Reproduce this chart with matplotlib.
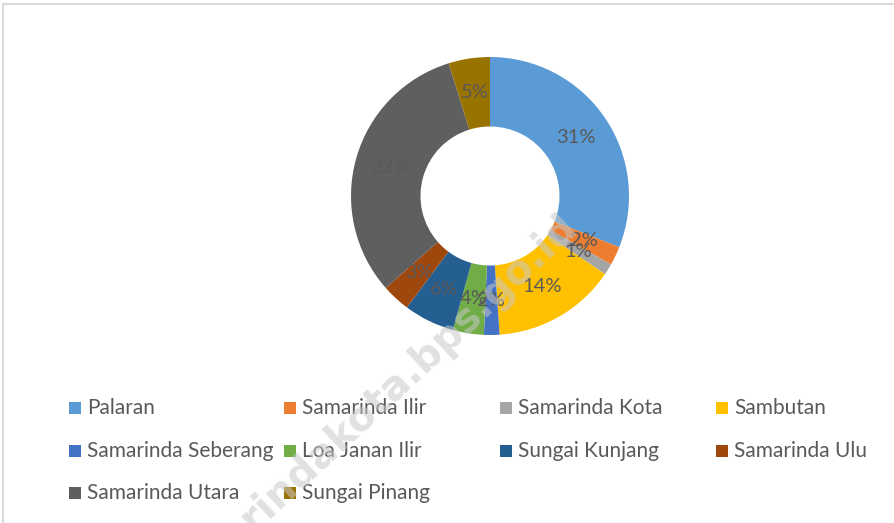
import matplotlib
matplotlib.use("Agg")
import matplotlib.pyplot as plt
from matplotlib.patches import Rectangle
from matplotlib.lines import Line2D

# kecamatan shares (percent)
districts = ["Palaran", "Samarinda Ilir", "Samarinda Kota", "Sambutan",
             "Samarinda Seberang", "Loa Janan Ilir", "Sungai Kunjang",
             "Samarinda Ulu", "Samarinda Utara", "Sungai Pinang"]
shares = [31.0, 2.2, 1.3, 14.4, 1.8, 3.6, 5.9, 3.3, 31.7, 4.8]
colors = ["#5B9BD5", "#ED7D31", "#A5A5A5", "#FFC000", "#4472C4",
          "#70AD47", "#255E91", "#9E480E", "#5f5f5f", "#997300"]

W, H = 895, 523
plt.rcParams['font.family'] = ['Lato', 'DejaVu Sans']
txt_color = "#595959"

fig = plt.figure(figsize=(W / 100, H / 100), dpi=100)

# chart border (light gray, only top/left visible in crop)
fig.add_artist(Line2D([3 / W, 1.2], [1 - 4 / H, 1 - 4 / H], transform=fig.transFigure,
                      color="#d9d9d9", lw=1.5))
fig.add_artist(Line2D([3 / W, 3 / W], [-0.2, 1 - 4 / H], transform=fig.transFigure,
                      color="#d9d9d9", lw=1.5))

# donut: center (490,196), radius 139 px
cx, cy, r = 490, 196, 139
ax = fig.add_axes([(cx - r) / W, (H - cy - r) / H, 2 * r / W, 2 * r / H])
wedges, texts, autotexts = ax.pie(
    shares, colors=colors, startangle=90, counterclock=False,
    wedgeprops=dict(width=0.5, edgecolor="none"),
    autopct="%.0f%%", pctdistance=0.75,
    textprops=dict(color=txt_color, fontsize=14.5))
ax.set_xlim(-1, 1)
ax.set_ylim(-1, 1)
ax.set_aspect("equal")
ax.axis("off")

# legend laid out row by row, 4 columns
col_x = [69, 284, 500, 716]
row_y = [408, 451, 493]
sq = 12
for i, (name, c) in enumerate(zip(districts, colors)):
    row, col = divmod(i, 4)
    x, y = col_x[col], row_y[row]
    fig.add_artist(Rectangle((x / W, (H - y - sq / 2) / H), sq / W, sq / H,
                             transform=fig.transFigure, facecolor=c, edgecolor="none"))
    fig.text((x + sq + 6) / W, (H - y) / H, name, color=txt_color, fontsize=15,
             va="center", ha="left")

# watermark
fig.text(366 / W, 1 - 414 / H, "samarindakota.bps.go.id", rotation=43,
         fontsize=29, fontweight="bold", color="#c8c8c8", alpha=0.55,
         ha="center", va="center", rotation_mode="anchor", zorder=10,
         family="DejaVu Sans")

fig.savefig("out.png", dpi=100)
